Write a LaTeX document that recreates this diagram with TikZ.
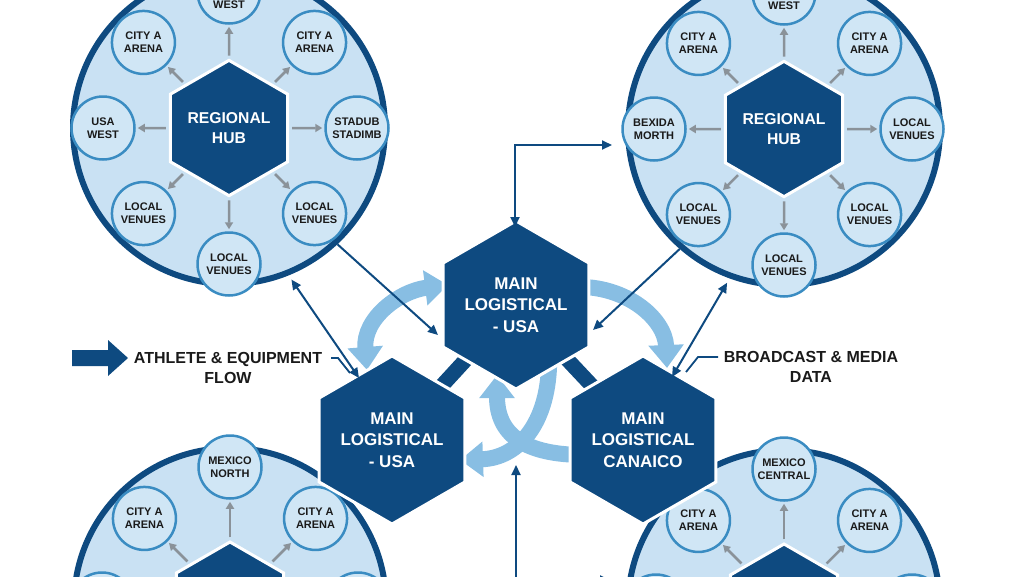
\documentclass[tikz,border=0pt]{standalone}
\usepackage{fontspec}
\setmainfont{Liberation Sans}
\usepackage{tikz}
\usetikzlibrary{shapes.geometric,arrows.meta,calc,backgrounds}

\definecolor{hubblue}{HTML}{0E4A80}
\definecolor{ringfill}{HTML}{C9E1F3}
\definecolor{satfill}{HTML}{D0E6F5}
\definecolor{satline}{HTML}{3A8CC2}
\definecolor{spokegray}{HTML}{8A9299}
\definecolor{swirl}{HTML}{88BEE3}
\definecolor{inktext}{HTML}{1A1A1A}

\tikzset{
  ring/.style={circle,fill=ringfill,draw=hubblue,line width=6pt,minimum size=312pt,inner sep=0pt},
  hub/.style={regular polygon,regular polygon sides=6,shape border rotate=30,fill=hubblue,draw=white,
    line width=3pt,minimum size=124pt,inner sep=0pt,text=white,align=center,
    font=\bfseries\fontsize{15.7}{20}\selectfont},
  mainhub/.style={hub,minimum size=146pt,font=\bfseries\fontsize{17}{21.5}\selectfont},
  sat/.style={circle,fill=satfill,draw=satline,line width=2.5pt,minimum size=63pt,inner sep=0pt,
    text=inktext,align=center,font=\bfseries\fontsize{11}{13}\selectfont},
  sattext/.style={text=inktext,inner sep=0pt,font=\bfseries\fontsize{11}{13}\selectfont},
  spoke/.style={draw=spokegray,line width=2.5pt,-{Triangle[width=8pt,length=7pt]},shorten <=3pt,shorten >=2pt},
  flow/.style={draw=hubblue,line width=2pt,-{Triangle[width=9pt,length=10pt]}},
  flowboth/.style={flow,arrows={Triangle[width=9pt,length=10pt]-Triangle[width=9pt,length=10pt]}},
  swoop/.style={draw=swirl,line width=16pt,-{Triangle[width=34pt,length=23pt]}},
  swoopboth/.style={swoop,arrows={Triangle[width=34pt,length=23pt]-Triangle[width=34pt,length=23pt]}},
  link/.style={draw=hubblue,line width=15pt},
  legend/.style={text=inktext,align=center,font=\bfseries\fontsize{16}{20}\selectfont}
}

\begin{document}
\begin{tikzpicture}[x=1pt,y=-1pt]
  \clip (0,0) rectangle (1024,576);
  % regional clusters
  \node[ring] (tlring) at (229,128) {};
  \node[hub] (tlhub) at (tlring.center) {REGIONAL\\HUB};
  \foreach \ang/\rad/\txt [count=\i] in {270/136/{},315/121/{CITY A\\ARENA},
      0/128/{STADUB\\STADIMB},45/121/{LOCAL\\VENUES},90/136/{LOCAL\\VENUES},
      135/121/{LOCAL\\VENUES},180/126/{USA\\WEST},225/121/{CITY A\\ARENA}}{
    \node[sat] (tl\i) at ($(tlhub)+(\ang:\rad)$) {\txt};
    \draw[spoke] (tlhub) -- (tl\i);
  }
  \node[sattext] (tlwest) at ($(tl1)+(0,13)$) {WEST};

  \node[ring] (trring) at (784,129) {};
  \node[hub] (trhub) at (trring.center) {REGIONAL\\HUB};
  \foreach \ang/\rad/\txt [count=\i] in {270/136/{},315/121/{CITY A\\ARENA},
      0/128/{LOCAL\\VENUES},45/121/{LOCAL\\VENUES},90/136/{LOCAL\\VENUES},
      135/121/{LOCAL\\VENUES},180/130/{BEXIDA\\MORTH},225/121/{CITY A\\ARENA}}{
    \node[sat] (tr\i) at ($(trhub)+(\ang:\rad)$) {\txt};
    \draw[spoke] (trhub) -- (tr\i);
  }
  \node[sattext] (trwest) at ($(tr1)+(0,13)$) {WEST};

  \node[ring] (blring) at (230,604) {};
  \node[hub] (blhub) at (blring.center) {};
  \foreach \ang/\rad/\txt [count=\i] in {270/137/{MEXICO\\NORTH},315/121/{CITY A\\ARENA},
      225/121/{CITY A\\ARENA},0/128/{},180/128/{}}{
    \node[sat] (bl\i) at ($(blhub)+(\ang:\rad)$) {\txt};
    \draw[spoke] (blhub) -- (bl\i);
  }

  \node[ring] (brring) at (784,606) {};
  \node[hub] (brhub) at (brring.center) {};
  \foreach \ang/\rad/\txt [count=\i] in {270/137/{MEXICO\\CENTRAL},315/121/{CITY A\\ARENA},
      225/121/{CITY A\\ARENA},0/128/{},180/128/{}}{
    \node[sat] (br\i) at ($(brhub)+(\ang:\rad)$) {\txt};
    \draw[spoke] (brhub) -- (br\i);
  }

  % main logistical hubs
  \node[mainhub] (mtop) at (516,305) {MAIN\\LOGISTICAL\\- USA};
  \node[mainhub] (mleft) at (392,440) {MAIN\\LOGISTICAL\\- USA};
  \node[mainhub] (mright) at (643,440) {MAIN\\LOGISTICAL\\CANAICO};

  % links and swoops behind the hubs
  \begin{scope}[on background layer]
    \draw[link] (mtop.center) -- (mleft.center);
    \draw[link] (mtop.center) -- (mright.center);
    \draw[swoopboth] (367,370) .. controls (363,318) and (400,291) .. (448,285);
    \draw[swoop] (575,287) .. controls (625,285) and (665,318) .. (667,368);
    \draw[swoop] (585,455) .. controls (525,455) and (497,435) .. (497,375);
    \draw[swoop] (549,350) .. controls (552,420) and (520,458) .. (460,460);
  \end{scope}

  % flows between clusters and hubs
  \coordinate (tlin) at (438,335);
  \coordinate (tlboth) at (359,378);
  \coordinate (trin) at (593,330);
  \coordinate (trboth) at (672,377);
  \draw[flow] (tlring.-47.5) -- (tlin);
  \draw[flowboth,shorten <=5pt] (tlring.-68) -- (tlboth);
  \draw[flow] (trring.-131.7) -- (trin);
  \draw[flowboth,shorten <=5pt] (trring.-110) -- (trboth);
  \coordinate (topelbow) at (515,145);
  \draw[flowboth] (515,227) -- (topelbow) -- (612,145);
  \coordinate (botelbow) at (516,580);
  \draw[flowboth] (516,465) -- (botelbow) -- (610,580);

  % legend
  \fill[hubblue] (72,350) -- (108,350) -- (108,340) -- (128,358) -- (108,376) -- (108,366) -- (72,366) -- cycle;
  \node[legend] (athlete) at (228,368) {ATHLETE \& EQUIPMENT\\FLOW};
  \node[legend] (broadcast) at (811,367) {BROADCAST \& MEDIA\\DATA};
  \draw[hubblue,line width=1.8pt] (331,358) -- (338,358) -- (350,373);
  \draw[hubblue,line width=1.8pt] (718,357) -- (698,357) -- (686,372);
\end{tikzpicture}
\end{document}
